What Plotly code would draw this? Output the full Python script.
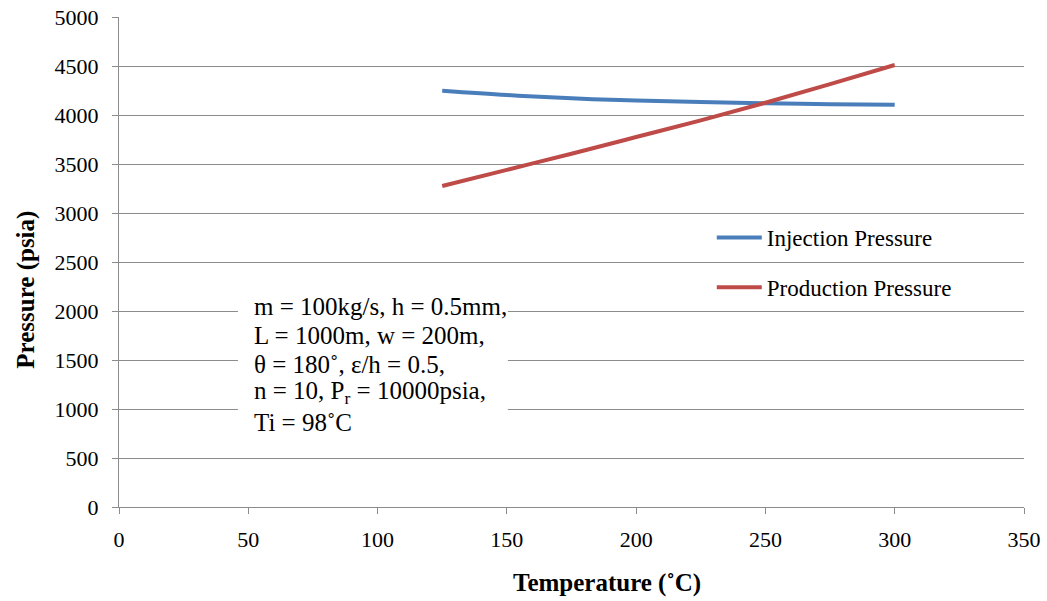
import plotly.graph_objects as go

# Temperature (°C) sample points
temperature = [125, 150, 175, 200, 225, 250, 275, 300]
# Pressures (psia)
injection_pressure = [4248, 4204, 4170, 4148, 4132, 4120, 4110, 4105]
production_pressure = [3275, 3440, 3605, 3775, 3945, 4125, 4315, 4510]

x_ticks = [0, 50, 100, 150, 200, 250, 300, 350]
y_ticks = [0, 500, 1000, 1500, 2000, 2500, 3000, 3500, 4000, 4500, 5000]

# Model parameters listed in the text box, one line each
param_lines = [
    "m = 100kg/s, h = 0.5mm,",
    "L = 1000m, w = 200m,",
    "θ = 180˚, ε/h = 0.5,",
    "n = 10, P<sub>r</sub> = 10000psia,",
    "Ti = 98˚C",
]
param_line_y = [2041, 1755, 1459, 1168, 860]

serif = "Liberation Serif"
grid_color = "#8c8c8c"

fig = go.Figure()
fig.add_trace(go.Scatter(
    x=temperature, y=injection_pressure, mode="lines",
    name="Injection Pressure", legendgroup="inj",
    line=dict(color="#4A7EBB", width=4, shape="spline"),
))
fig.add_trace(go.Scatter(
    x=temperature, y=production_pressure, mode="lines",
    name="Production Pressure", legendgroup="prod",
    line=dict(color="#BE4B48", width=4, shape="spline"),
))

# White text box behind the parameter list
fig.add_shape(
    type="rect", xref="x", yref="y",
    x0=46.0, x1=150.4, y0=690, y1=2240,
    fillcolor="white", line=dict(width=0), layer="above",
)
for line_text, line_y in zip(param_lines, param_line_y):
    fig.add_annotation(
        x=51.4, y=line_y, xref="x", yref="y",
        xanchor="left", yanchor="middle",
        text=line_text, showarrow=False, align="left",
        font=dict(family=serif, size=25, color="black"),
    )

# Axis titles
fig.add_annotation(
    x=-0.103, y=0.443, xref="paper", yref="paper",
    xanchor="center", yanchor="middle", textangle=-90,
    text="<b>Pressure (psia)</b>", showarrow=False,
    font=dict(family=serif, size=25, color="black"),
)
fig.add_annotation(
    x=0.539, y=-0.155, xref="paper", yref="paper",
    xanchor="center", yanchor="middle",
    text="<b>Temperature (˚C)</b>", showarrow=False,
    font=dict(family=serif, size=25, color="black"),
)

fig.update_layout(
    width=1047, height=601,
    paper_bgcolor="white", plot_bgcolor="white",
    margin=dict(l=119, r=23, t=17, b=94, autoexpand=False),
    font=dict(family=serif, color="black", size=22),
    showlegend=True,
    legend=dict(
        x=0.655, y=0.594, xanchor="left", yanchor="top",
        bgcolor="rgba(0,0,0,0)", font=dict(family=serif, size=23, color="black"),
        tracegroupgap=17, itemwidth=45,
    ),
    xaxis=dict(
        range=[0, 350], tickvals=x_ticks, showgrid=False,
        showline=True, linecolor=grid_color, linewidth=1,
        ticks="outside", ticklen=6, tickcolor=grid_color,
        ticklabelstandoff=7, automargin=False,
        zeroline=False, tickfont=dict(family=serif, size=22, color="black"),
    ),
    yaxis=dict(
        range=[0, 5000], tickvals=y_ticks, showgrid=True,
        gridcolor=grid_color, gridwidth=1,
        showline=True, linecolor=grid_color, linewidth=1,
        ticks="outside", ticklen=6, tickcolor=grid_color,
        ticklabelstandoff=9, automargin=False,
        zeroline=False, tickfont=dict(family=serif, size=22, color="black"),
    ),
)

fig.write_html("out.html")
